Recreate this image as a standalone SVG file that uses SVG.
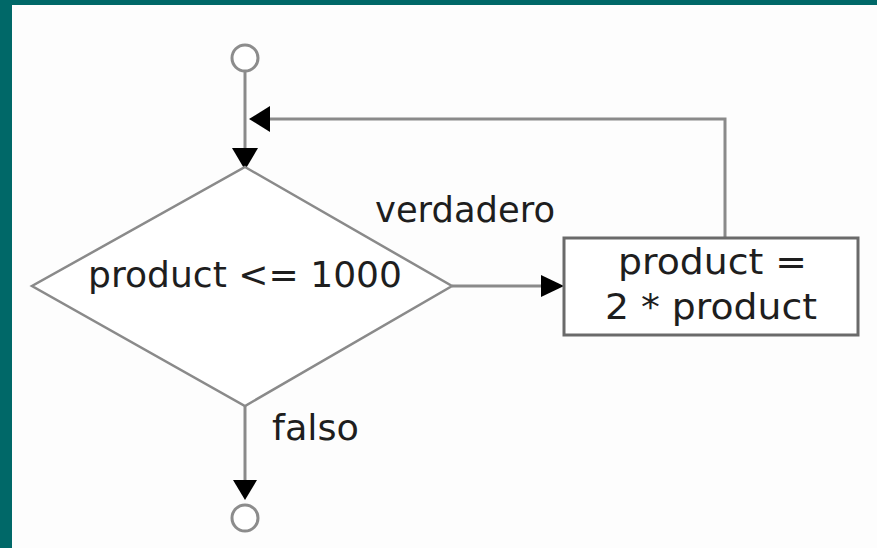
<svg xmlns="http://www.w3.org/2000/svg" width="877" height="548" viewBox="0 0 877 548">
  <style>
    .line { fill: none; stroke: #8a8a8a; stroke-width: 3; }
    .shape { fill: #ffffff; stroke: #8a8a8a; stroke-width: 2.5; }
    .box { fill: #ffffff; stroke: #6a6a6a; stroke-width: 3; }
    .term { fill: #ffffff; stroke: #8c8c8c; stroke-width: 3; }
    .label { font-family: "DejaVu Sans", "Liberation Sans", sans-serif; font-size: 36px; fill: #1e1e1e; }
    .head { fill: #000000; }
  </style>

  <!-- frame -->
  <rect x="0" y="0" width="877" height="548" fill="#fdfdfd"/>
  <rect x="0" y="0" width="877" height="5" fill="#006868"/>
  <rect x="0" y="0" width="12" height="548" fill="#006868"/>

  <!-- connectors -->
  <g id="connectors">
    <line class="line" x1="245" y1="72" x2="245" y2="150"/>
    <polygon class="head" points="232,148 258,148 245,170"/>
    <polyline class="line" points="725,238 725,119 268,119"/>
    <polygon class="head" points="270,106 270,132 249,119"/>
    <line class="line" x1="452" y1="286" x2="543" y2="286"/>
    <polygon class="head" points="541,275 541,297 564,286"/>
    <line class="line" x1="245" y1="406" x2="245" y2="482"/>
    <polygon class="head" points="233,480 257,480 245,500"/>
    <text class="label" x="375" y="222" textLength="180" lengthAdjust="spacingAndGlyphs">verdadero</text>
    <text class="label" x="272" y="440" textLength="87" lengthAdjust="spacingAndGlyphs">falso</text>
  </g>

  <g id="start">
    <circle class="term" cx="245" cy="58" r="13"/>
  </g>

  <g id="decision">
    <polygon class="shape" points="245,167 452,286 245,406 32,286"/>
    <text class="label" x="88" y="287" textLength="314" lengthAdjust="spacingAndGlyphs">product &lt;= 1000</text>
  </g>

  <g id="process">
    <rect class="box" x="564" y="238" width="294" height="97"/>
    <text class="label" x="618" y="274" textLength="189" lengthAdjust="spacingAndGlyphs">product =</text>
    <text class="label" x="605" y="319" textLength="212" lengthAdjust="spacingAndGlyphs">2 * product</text>
  </g>

  <g id="end">
    <circle class="term" cx="245" cy="518" r="13"/>
  </g>
</svg>
